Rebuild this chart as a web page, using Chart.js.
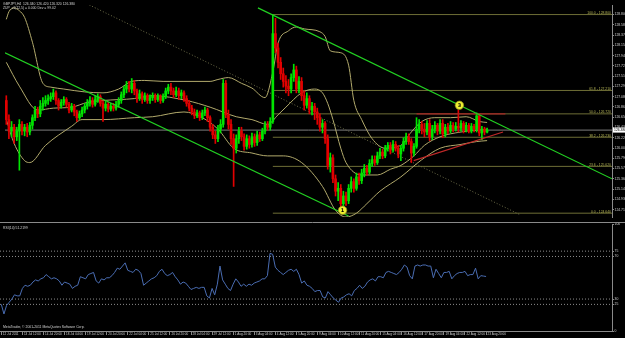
<!DOCTYPE html>
<html>
<head>
<meta charset="utf-8">
<script src="https://cdn.jsdelivr.net/npm/chart.js@4.4.0/dist/chart.umd.min.js"></script>
<style>
html, body { margin: 0; padding: 0; background: #000; }
#wrap { position: relative; width: 625px; height: 338px; background: #000; overflow: hidden; }
#main { position: absolute; left: 0; top: 0; }
#rsi { position: absolute; left: 0; top: 222px; }
</style>
</head>
<body>
<div id="wrap">
<canvas id="main" width="625" height="222"></canvas>
<canvas id="rsi" width="625" height="116"></canvas>
</div>
<script>
// GBPJPY H4, 12 Jul - 23 Aug 2011, one entry per bar
var opens = [
  127.00,126.60,126.36,126.44,126.24,126.36,126.50,126.36,126.44,126.34,
  126.48,126.64,126.80,126.72,126.88,126.94,127.00,127.04,127.08,127.16,
  127.00,126.88,126.96,127.02,126.92,126.80,126.88,126.76,126.64,126.72,
  126.80,126.88,126.94,127.00,126.92,127.02,127.08,126.94,126.84,126.92,
  126.82,126.88,126.84,126.92,127.00,127.12,127.24,127.32,127.24,127.36,
  127.20,127.04,127.14,127.02,127.10,127.00,127.06,127.10,127.02,127.08,
  127.00,127.08,127.20,127.28,127.20,127.12,127.20,127.10,127.16,127.04,
  126.94,126.84,126.76,126.68,126.74,126.64,126.74,126.80,126.64,126.44,
  126.28,126.20,126.40,126.50,127.36,126.70,126.50,126.20,126.00,126.20,
  126.36,126.24,126.04,126.20,126.08,126.24,126.12,126.28,126.20,126.36,
  126.48,126.44,126.56,128.40,128.10,127.80,127.56,127.40,127.30,127.24,
  127.48,127.64,127.24,127.40,127.10,126.90,127.04,126.80,126.88,126.76,
  126.64,126.44,126.52,126.20,125.64,125.80,125.36,125.10,125.16,124.84,
  125.00,124.90,125.16,125.30,125.16,125.40,125.32,125.48,125.58,125.50,
  125.68,125.76,125.70,125.84,125.92,125.84,126.00,126.06,125.96,126.08,
  126.00,125.88,126.00,126.14,126.24,126.14,125.90,126.04,126.40,126.50,
  126.40,126.34,126.52,126.24,126.40,126.48,126.36,126.52,126.30,126.44,
  126.36,126.48,126.40,126.46,126.42,126.52,126.38,126.48,126.36,126.46,
  126.40,126.68,126.32,126.40,126.34
];
var highs = [
  127.10,126.70,126.56,126.50,126.44,126.60,126.56,126.50,126.52,126.54,
  126.70,126.88,126.86,127.00,127.06,127.10,127.12,127.16,127.24,127.20,
  127.04,127.02,127.08,127.06,126.96,126.94,126.92,126.80,126.78,126.86,
  126.94,127.02,127.08,127.06,127.10,127.14,127.12,127.00,126.98,126.96,
  126.94,126.94,126.98,127.06,127.18,127.30,127.40,127.40,127.46,127.42,
  127.24,127.22,127.18,127.16,127.14,127.12,127.16,127.14,127.14,127.12,
  127.14,127.26,127.34,127.36,127.26,127.28,127.26,127.22,127.20,127.10,
  127.00,126.90,126.82,126.80,126.78,126.80,126.86,126.84,126.68,126.50,
  126.36,126.48,126.60,127.44,127.42,126.80,126.60,126.30,126.28,126.44,
  126.44,126.30,126.28,126.26,126.32,126.30,126.36,126.34,126.42,126.56,
  126.56,126.64,128.80,128.72,128.20,127.90,127.68,127.52,127.44,127.56,
  127.76,127.72,127.50,127.48,127.20,127.16,127.10,126.96,126.94,126.84,
  126.72,126.60,126.56,126.28,125.90,125.86,125.44,125.28,125.24,125.10,
  125.08,125.24,125.40,125.36,125.48,125.48,125.56,125.66,125.64,125.76,
  125.84,125.84,125.92,126.00,125.98,126.06,126.12,126.12,126.16,126.14,
  126.06,126.06,126.22,126.32,126.30,126.20,126.10,126.64,126.60,126.56,
  126.52,126.58,126.60,126.48,126.56,126.52,126.60,126.60,126.50,126.52,
  126.56,126.54,126.54,126.80,126.58,126.56,126.54,126.52,126.52,126.50,
  126.74,126.72,126.46,126.44,126.42
];
var lows = [
  126.50,126.20,126.24,126.10,126.16,125.54,126.28,126.26,126.24,126.28,
  126.40,126.58,126.64,126.66,126.80,126.88,126.92,126.98,127.02,126.92,
  126.80,126.84,126.90,126.86,126.74,126.76,126.68,126.56,126.60,126.66,
  126.74,126.82,126.88,126.86,126.88,126.96,126.88,126.56,126.78,126.76,
  126.78,126.78,126.80,126.86,126.94,127.06,127.16,127.18,127.16,127.12,
  126.96,127.00,126.94,126.98,126.94,126.94,127.00,126.96,126.98,126.94,
  126.96,127.04,127.14,127.12,127.06,127.08,127.02,127.04,126.98,126.88,
  126.78,126.70,126.62,126.64,126.58,126.60,126.68,126.56,126.36,126.20,
  126.10,126.14,126.32,126.44,126.64,126.40,126.08,125.20,125.90,126.10,
  126.16,125.96,125.98,126.00,126.02,126.04,126.06,126.14,126.16,126.30,
  126.38,126.38,126.52,128.00,127.68,127.44,127.28,127.16,127.10,127.16,
  127.40,127.16,127.16,127.00,126.80,126.84,126.72,126.70,126.60,126.50,
  126.36,126.32,126.10,125.56,125.50,125.28,125.00,124.90,124.64,124.76,
  124.80,124.84,125.08,125.08,125.12,125.24,125.26,125.40,125.44,125.46,
  125.62,125.64,125.66,125.78,125.78,125.80,125.94,125.88,125.92,125.94,
  125.80,125.74,125.94,126.08,126.08,125.70,125.84,126.00,126.32,126.30,
  126.24,126.28,126.16,126.18,126.32,126.28,126.30,126.22,126.24,126.30,
  126.32,126.34,126.36,126.34,126.36,126.32,126.34,126.32,126.32,126.34,
  126.34,126.26,126.18,126.28,126.32
];
var closes = [
  126.60,126.36,126.44,126.24,126.36,126.50,126.36,126.44,126.34,126.48,
  126.64,126.80,126.72,126.88,126.94,127.00,127.04,127.08,127.16,127.00,
  126.88,126.96,127.02,126.92,126.80,126.88,126.76,126.64,126.72,126.80,
  126.88,126.94,127.00,126.92,127.02,127.08,126.94,126.84,126.92,126.82,
  126.88,126.84,126.92,127.00,127.12,127.24,127.32,127.24,127.36,127.20,
  127.04,127.14,127.02,127.10,127.00,127.06,127.10,127.02,127.08,127.00,
  127.08,127.20,127.28,127.20,127.12,127.20,127.10,127.16,127.04,126.94,
  126.84,126.76,126.68,126.74,126.64,126.74,126.80,126.64,126.44,126.28,
  126.20,126.40,126.50,127.36,126.70,126.50,126.20,126.00,126.20,126.36,
  126.24,126.04,126.20,126.08,126.24,126.12,126.28,126.20,126.36,126.48,
  126.44,126.56,128.40,128.10,127.80,127.56,127.40,127.30,127.24,127.48,
  127.64,127.24,127.40,127.10,126.90,127.04,126.80,126.88,126.76,126.64,
  126.44,126.52,126.20,125.64,125.80,125.36,125.10,125.16,124.84,125.00,
  124.90,125.16,125.30,125.16,125.40,125.32,125.48,125.58,125.50,125.68,
  125.76,125.70,125.84,125.92,125.84,126.00,126.06,125.96,126.08,126.00,
  125.88,126.00,126.14,126.24,126.14,125.90,126.04,126.40,126.50,126.40,
  126.34,126.52,126.24,126.40,126.48,126.36,126.52,126.30,126.44,126.36,
  126.48,126.40,126.46,126.42,126.52,126.38,126.48,126.36,126.46,126.40,
  126.68,126.32,126.40,126.34,126.38
];

// RSI(14), one value per bar
var rsiValues = [
  25,16,24,27,30,34,33,33,40,43,
  42,43,46,48,47,49,50,53,51,49,
  50,49,47,43,46,45,44,40,42,43,
  51,50,49,53,54,55,47,45,49,48,
  50,50,52,55,59,58,61,64,57,56,
  55,58,57,54,43,45,47,49,50,52,
  56,58,54,52,53,55,51,48,44,46,
  45,42,39,40,41,40,41,41,33,31,
  40,34,44,61,48,44,40,38,44,49,
  46,42,44,42,44,43,45,46,47,49,
  49,52,73,72,60,57,55,53,55,57,
  58,56,58,53,45,47,43,42,40,37,
  38,38,32,31,37,34,31,29,27,31,
  32,34,35,33,38,40,43,40,42,46,
  48,49,47,51,51,50,55,56,55,54,
  53,55,58,62,60,52,49,61,62,61,
  62,62,61,61,50,58,54,50,55,55,
  56,49,52,54,55,55,56,52,53,53,
  59,49,52,51.6,51.2199
];

// Bollinger bands: [bar, price]
var upperBand = [[0,128.70],[1,128.86],[3,128.94],[5,128.88],[7,128.74],[10,128.22],[14,127.36],[17,127.28],[22,127.24],[30,127.18],[37,127.16],[43,127.24],[48,127.40],[53,127.42],[60,127.40],[68,127.40],[78,127.40],[81,127.44],[85,127.48],[90,127.36],[94,127.26],[99,127.06],[102,127.60],[104,128.20],[108,128.46],[111,128.54],[114,128.50],[120,128.44],[122,128.34],[124,128.04],[128,128.00],[131,127.74],[133,127.00],[136,126.60],[140,126.20],[145,126.00],[151,126.06],[155,126.34],[159,126.56],[164,126.64],[170,126.64],[176,126.66],[181,126.56],[184,126.54]];
var middleBand = [[0,127.80],[5,127.30],[12,126.80],[18,126.84],[25,126.86],[31,126.96],[37,127.00],[49,127.04],[56,127.10],[69,127.00],[78,126.86],[88,126.66],[94,126.60],[100,126.50],[104,126.70],[107,126.86],[113,127.16],[118,127.24],[121,127.16],[123,126.94],[125,126.60],[128,126.00],[130,125.70],[136,125.44],[142,125.44],[147,125.56],[151,125.64],[156,125.84],[160,126.06],[166,126.24],[174,126.34],[184,126.40]];
var lowerBand = [[0,126.60],[3,126.10],[7,125.74],[9,125.70],[15,126.06],[25,126.46],[29,126.60],[37,126.60],[49,126.64],[56,126.66],[68,126.76],[75,126.64],[81,126.40],[87,126.00],[94,125.90],[100,125.84],[106,125.84],[113,125.70],[121,125.20],[126,124.70],[130,124.56],[134,124.64],[138,124.84],[143,125.10],[151,125.40],[159,125.76],[166,126.00],[174,126.08],[180,126.14],[184,126.16]];

// drawn objects: [bar, price]
var channelUpper = [[96.3,128.94],[231.8,125.36]];
var channelLower = [[-0.5,128.00],[131,124.58]];
var dottedTrend = [[31.8,129.00],[196.9,124.60]];
var redFlat = [[157,126.72],[191,126.72]];
var redRising = [[155.9,125.74],[190.1,126.34]];
var fibLevels = ['100.0','61.8','50.0','38.2','23.6','0.0'];
var fibPrices = [128.80,127.21,126.72,126.23,125.62,124.64];
var fibStartBar = 102;
var waveMarks = [[128.7,124.70,'1'],[173.4,126.90,'3']];
var bidPrice = 126.38;

var priceTicks = [128.800,128.585,128.370,128.155,127.940,127.725,127.510,127.295,127.080,126.865,126.650,126.435,126.220,126.005,125.790,125.575,125.360,125.145,124.930,124.715];
var rsiLevels = [75, 70, 30, 25];
var rsiAxisTicks = [100, 75, 70, 30, 25, 0];
var timeTicks = [0,8,16,24,32,40,48,56,64,72,80,88,96,104,112,120,128,136,144,152,160,168,176,184];
var timeLabels = ['12 Jul 2011','13 Jul 12:00','14 Jul 20:00','18 Jul 04:00','19 Jul 12:00','20 Jul 20:00','22 Jul 04:00','25 Jul 12:00','26 Jul 20:00','28 Jul 04:00','29 Jul 12:00','1 Aug 20:00','3 Aug 04:00','4 Aug 12:00','5 Aug 20:00','9 Aug 04:00','10 Aug 12:00','11 Aug 20:00','15 Aug 04:00','16 Aug 12:00','17 Aug 20:00','19 Aug 04:00','22 Aug 12:00','23 Aug 20:00'];

var headerLines = ['GBPJPY,H4  126.340 126.420 126.320 126.380', 'ZUP_v1(12,5) = 0.000 Dev = 99.02'];

var X_MIN = -0.5, X_MAX = 231.8;
var tiny = { family: 'Liberation Sans', size: 3.4 };
var tinyTime = { family: 'Liberation Sans', size: 3.1 };
var axisGrey = '#8a8a8a';
var bandColor = '#b2aa6c';
var fibColor = '#6e6e36';

var candleColors = closes.map(function (c, i) { return c >= opens[i] ? '#00e400' : '#e20000'; });

function pts(list) { return list.map(function (p) { return { x: p[0], y: p[1] }; }); }
function lineSet(list, color, width, extra) {
  var ds = { type: 'line', data: pts(list), borderColor: color, borderWidth: width, pointRadius: 0, order: 1 };
  for (var k in extra) ds[k] = extra[k];
  return ds;
}

var mainDatasets = [];
fibPrices.forEach(function (p) {
  mainDatasets.push(lineSet([[fibStartBar, p], [X_MAX, p]], fibColor, 1, { order: 9 }));
});
mainDatasets.push(lineSet([[X_MIN, bidPrice], [X_MAX, bidPrice]], '#7c7c7c', 1, { order: 9 }));
mainDatasets.push(lineSet(upperBand, bandColor, 1, { cubicInterpolationMode: 'monotone', order: 8 }));
mainDatasets.push(lineSet(middleBand, bandColor, 1, { cubicInterpolationMode: 'monotone', order: 8 }));
mainDatasets.push(lineSet(lowerBand, bandColor, 1, { cubicInterpolationMode: 'monotone', order: 8 }));
mainDatasets.push(lineSet(dottedTrend, '#6c6c48', 1, { borderDash: [1, 2], order: 8 }));

// candles: wick then body
mainDatasets.push({
  type: 'bar',
  data: opens.map(function (o, i) { return { x: i, y: [lows[i], highs[i]] }; }),
  backgroundColor: candleColors, barThickness: 1, grouped: false, order: 5
});
mainDatasets.push({
  type: 'bar',
  data: opens.map(function (o, i) { return { x: i, y: [o, closes[i]] }; }),
  backgroundColor: candleColors, barThickness: 2, minBarLength: 1, grouped: false, order: 4
});

mainDatasets.push(lineSet(channelUpper, '#22d022', 1.2, { order: 2 }));
mainDatasets.push(lineSet(channelLower, '#22d022', 1.2, { order: 2 }));
mainDatasets.push(lineSet(redFlat, '#a82424', 1.2, { order: 2 }));
mainDatasets.push(lineSet(redRising, '#c02828', 1.2, { order: 2 }));
mainDatasets.push({
  type: 'line', showLine: false, order: 0,
  data: waveMarks.map(function (m) { return { x: m[0], y: m[1] }; }),
  pointRadius: 4.2, pointBackgroundColor: '#eeee30', pointBorderColor: '#909020', pointBorderWidth: 0.8
});

var mainText = {
  id: 'mainText',
  afterDraw: function (chart) {
    var ctx = chart.ctx, area = chart.chartArea, x = chart.scales.x, y = chart.scales.y;
    ctx.save();
    ctx.font = '3.4px "Liberation Sans"';
    ctx.fillStyle = '#d4d4d4';
    ctx.textAlign = 'left';
    ctx.textBaseline = 'alphabetic';
    ctx.fillText(headerLines[0], 3, 5);
    ctx.fillText(headerLines[1], 3, 9);

    ctx.fillStyle = '#b4b456';
    ctx.textAlign = 'right';
    fibPrices.forEach(function (p, k) {
      ctx.fillText(fibLevels[k] + ' - ' + p.toFixed(3), area.right - 1, y.getPixelForValue(p) - 0.5);
    });

    ctx.fillStyle = '#000';
    ctx.font = 'bold 5px "DejaVu Sans"';
    ctx.textAlign = 'center';
    ctx.textBaseline = 'middle';
    waveMarks.forEach(function (m) {
      ctx.fillText(m[2], x.getPixelForValue(m[0]), y.getPixelForValue(m[1]) + 0.4);
    });

    var by = y.getPixelForValue(bidPrice);
    ctx.fillStyle = '#ffffff';
    ctx.fillRect(area.right + 1, by - 2.5, 13, 5);
    ctx.fillStyle = '#000';
    ctx.font = '3.4px "Liberation Sans"';
    ctx.textAlign = 'left';
    ctx.fillText(bidPrice.toFixed(3), area.right + 2, by);
    ctx.restore();
  }
};

new Chart(document.getElementById('main').getContext('2d'), {
  type: 'bar',
  data: { datasets: mainDatasets },
  options: {
    responsive: false,
    devicePixelRatio: 1,
    animation: false,
    layout: { padding: 0 },
    plugins: { legend: { display: false }, tooltip: { enabled: false } },
    scales: {
      x: { type: 'linear', min: X_MIN, max: X_MAX, offset: false, display: false },
      y: {
        position: 'right', min: 124.56, max: 129.00,
        afterFit: function (s) { s.width = 13; },
        afterBuildTicks: function (s) { s.ticks = priceTicks.map(function (v) { return { value: v }; }); },
        border: { display: true, color: axisGrey, width: 1 },
        grid: { drawOnChartArea: false, color: axisGrey, tickLength: 2 },
        ticks: { font: tiny, color: '#cfcfcf', padding: 0.5, callback: function (v) { return v.toFixed(3); } }
      }
    }
  },
  plugins: [mainText]
});

// RSI window
var rsiDatasets = rsiLevels.map(function (lv) {
  return lineSet([[X_MIN, lv], [X_MAX, lv]], '#8c8c8c', 1, { borderDash: [1, 2], order: 3 });
});
rsiDatasets.push({
  type: 'line', order: 1,
  data: rsiValues.map(function (v, i) { return { x: i, y: v }; }),
  borderColor: '#4a6db3', borderWidth: 1, pointRadius: 0
});

var rsiText = {
  id: 'rsiText',
  afterDraw: function (chart) {
    var ctx = chart.ctx, area = chart.chartArea;
    ctx.save();
    ctx.strokeStyle = axisGrey;
    ctx.lineWidth = 1;
    ctx.beginPath();
    ctx.moveTo(0, 0.5);
    ctx.lineTo(625, 0.5);
    ctx.stroke();
    ctx.font = '3.4px "Liberation Sans"';
    ctx.fillStyle = '#d4d4d4';
    ctx.textAlign = 'left';
    ctx.textBaseline = 'alphabetic';
    ctx.fillText('RSI(14) ' + rsiValues[rsiValues.length - 1].toFixed(4), 3, 7);
    ctx.fillText('MetaTrader, \u00a9 2001-2011 MetaQuotes Software Corp.', 3, area.bottom - 3);
    ctx.restore();
  }
};

new Chart(document.getElementById('rsi').getContext('2d'), {
  type: 'line',
  data: { datasets: rsiDatasets },
  options: {
    responsive: false,
    devicePixelRatio: 1,
    animation: false,
    layout: { padding: { top: 2, left: 0, right: 0, bottom: 0 } },
    plugins: { legend: { display: false }, tooltip: { enabled: false } },
    scales: {
      x: {
        type: 'linear', min: X_MIN, max: X_MAX, offset: false,
        afterFit: function (s) { s.height = 7; },
        afterBuildTicks: function (s) { s.ticks = timeTicks.map(function (v) { return { value: v }; }); },
        border: { display: true, color: axisGrey, width: 1 },
        grid: { drawOnChartArea: false, color: axisGrey, tickLength: 4 },
        ticks: {
          font: tinyTime, color: '#cfcfcf', autoSkip: false, maxRotation: 0, minRotation: 0,
          align: 'start', padding: -3, labelOffset: 1.5,
          callback: function (v, i) { return timeLabels[i]; }
        }
      },
      y: {
        position: 'right', min: 0, max: 100,
        afterFit: function (s) { s.width = 13; },
        afterBuildTicks: function (s) { s.ticks = rsiAxisTicks.map(function (v) { return { value: v }; }); },
        border: { display: true, color: axisGrey, width: 1 },
        grid: { drawOnChartArea: false, color: axisGrey, tickLength: 2 },
        ticks: { font: tiny, color: '#cfcfcf', padding: 0.5 }
      }
    }
  },
  plugins: [rsiText]
});
</script>
</body>
</html>
